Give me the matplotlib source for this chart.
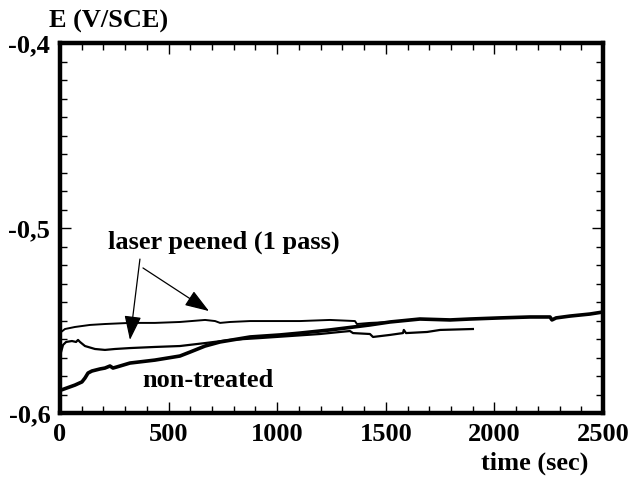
import matplotlib
matplotlib.use("Agg")
import matplotlib.pyplot as plt
from matplotlib.ticker import MultipleLocator, FuncFormatter

# ---- data ----
t_laser_a = [5, 23, 69, 138, 207, 322, 437, 552, 668, 714, 737, 783, 875, 1013,
             1105, 1243, 1358, 1367, 1427, 1519, 1611, 1657]
E_laser_a = [-0.5562, -0.5546, -0.5535, -0.5524, -0.5519, -0.5513, -0.5513, -0.5508,
             -0.5497, -0.5503, -0.5513, -0.5508, -0.5503, -0.5503, -0.5503, -0.5497,
             -0.5503, -0.5519, -0.5513, -0.5508, -0.5497, -0.5492]

t_laser_b = [5, 14, 28, 55, 74, 83, 92, 115, 161, 207, 253, 322, 437, 552, 668, 783,
             921, 1059, 1197, 1289, 1335, 1349, 1427, 1441, 1519, 1579, 1583, 1593,
             1690, 1750, 1901]
E_laser_b = [-0.5670, -0.5632, -0.5616, -0.5611, -0.5616, -0.5605, -0.5616, -0.5638,
             -0.5654, -0.5659, -0.5654, -0.5649, -0.5643, -0.5638, -0.5622, -0.5605,
             -0.5595, -0.5584, -0.5573, -0.5562, -0.5557, -0.5568, -0.5573, -0.5589,
             -0.5578, -0.5568, -0.5551, -0.5568, -0.5562, -0.5551, -0.5546]

t_untreated = [5, 69, 101, 115, 129, 147, 184, 207, 230, 244, 262, 322, 437, 552, 600,
               668, 737, 875, 1013, 1105, 1243, 1312, 1427, 1519, 1657, 1796, 1888,
               2026, 2164, 2256, 2265, 2284, 2348, 2440, 2500]
E_untreated = [-0.5876, -0.5849, -0.5832, -0.5811, -0.5784, -0.5773, -0.5762, -0.5757,
               -0.5746, -0.5757, -0.5751, -0.5730, -0.5714, -0.5692, -0.5670, -0.5638,
               -0.5616, -0.5589, -0.5578, -0.5568, -0.5551, -0.5541, -0.5524, -0.5508,
               -0.5492, -0.5497, -0.5492, -0.5486, -0.5481, -0.5481, -0.5497, -0.5486,
               -0.5476, -0.5465, -0.5454]

x_ticks = [0, 500, 1000, 1500, 2000, 2500]
y_ticks = [-0.6, -0.5, -0.4]

FONT = "Liberation Serif"

fig = plt.figure(figsize=(6.3, 4.87), dpi=100)
ax = fig.add_axes([60 / 630, 1 - 413 / 487, 543 / 630, 370 / 487])

ax.plot(t_laser_a, E_laser_a, color="black", lw=1.4)
ax.plot(t_laser_b, E_laser_b, color="black", lw=1.6)
ax.plot(t_untreated, E_untreated, color="black", lw=2.6)

ax.set_xlim(0, 2500)
ax.set_ylim(-0.6, -0.4)
ax.set_xticks(x_ticks)
ax.set_yticks(y_ticks)
ax.xaxis.set_minor_locator(MultipleLocator(100))
ax.yaxis.set_minor_locator(MultipleLocator(0.01))
ax.yaxis.set_major_formatter(FuncFormatter(lambda v, p: f"{v:.1f}".replace(".", ",")))

for s in ax.spines.values():
    s.set_linewidth(3.2)

ax.tick_params(which="both", direction="in", top=True, right=True, width=1.0)
ax.tick_params(which="major", length=8, pad=7)
ax.tick_params(which="minor", length=5)
for lab in ax.get_xticklabels() + ax.get_yticklabels():
    lab.set_fontfamily(FONT)
    lab.set_fontweight("bold")
    lab.set_fontsize(19)

ax.text(0.875, -0.135, "time (sec)", transform=ax.transAxes, ha="center", va="center",
        fontfamily=FONT, fontweight="bold", fontsize=19)
ax.text(0.090, 1.057, "E (V/SCE)", transform=ax.transAxes, ha="center", va="center",
        fontfamily=FONT, fontweight="bold", fontsize=19, clip_on=False)

ax.text(755, -0.5076, "laser peened (1 pass)", ha="center", va="center",
        fontfamily=FONT, fontweight="bold", fontsize=19)
ax.text(681, -0.5822, "non-treated", ha="center", va="center",
        fontfamily=FONT, fontweight="bold", fontsize=19)

arrow_kw = dict(arrowstyle="-|>,head_length=1.0,head_width=0.35", color="black",
                lw=0.9, mutation_scale=15, shrinkA=0, shrinkB=0)
ax.annotate("", xy=(322, -0.5605), xytext=(368, -0.5168), arrowprops=arrow_kw)
ax.annotate("", xy=(686, -0.5449), xytext=(382, -0.5216), arrowprops=arrow_kw)

fig.savefig("out.png", dpi=100)
